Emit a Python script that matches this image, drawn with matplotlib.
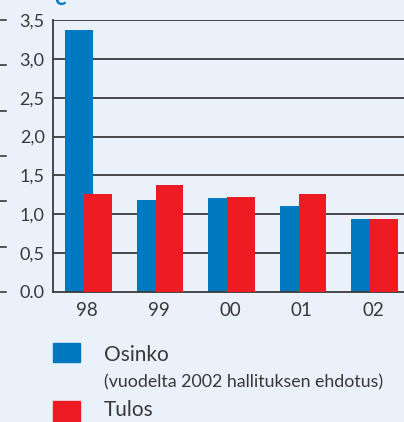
import matplotlib.pyplot as plt
import numpy as np
from matplotlib.patches import Rectangle

# dividend / earnings per share, years 1998-2002
years = ["98", "99", "00", "01", "02"]
osinko = [3.37, 1.18, 1.21, 1.11, 0.94]
tulos = [1.26, 1.38, 1.22, 1.26, 0.94]
y_ticks = [0.0, 0.5, 1.0, 1.5, 2.0, 2.5, 3.0, 3.5]
y_labels = ["0.0", "0,5", "1,0", "1,5", "2,0", "2,5", "3,0", "3,5"]

BG = "#EAF1FA"
BLUE = "#0079C1"
RED = "#ED1C24"
TXT = "#383838"
W, H = 404, 422


def main() -> None:
    plt.rcParams["font.family"] = ["Lato", "DejaVu Sans"]
    fig = plt.figure(figsize=(W / 100, H / 100), dpi=100, facecolor=BG)
    ax = fig.add_axes([53 / W, 130 / H, 1 - 53 / W, 272 / H], facecolor=BG)

    x = np.arange(len(years))
    bw = 0.39
    off = 0.133
    ax.bar(x - off, osinko, bw, color=BLUE, zorder=2)
    ax.bar(x + off, tulos, bw, color=RED, zorder=3)

    ax.set_xlim(-0.497, 4.413)
    ax.set_ylim(0, 3.5)
    ax.set_yticks(y_ticks, y_labels)
    ax.set_xticks(x - 0.02, years)
    for yv in y_ticks[1:]:
        ax.axhline(yv, color="#3a3a3a", lw=1.3, zorder=1)

    for s in ["top", "right"]:
        ax.spines[s].set_visible(False)
    for s in ["left", "bottom"]:
        ax.spines[s].set_color("#3a3a3a")
        ax.spines[s].set_linewidth(1.3)
    ax.tick_params(axis="y", length=0, pad=6, labelsize=13, labelcolor=TXT)
    ax.tick_params(axis="x", length=0, pad=7, labelsize=13.5, labelcolor=TXT)

    # leftover tick marks from the neighbouring chart at the left edge
    for yv in np.linspace(0, 3.5, 7):
        ax.plot([-53 / 351, -47 / 351], [yv, yv], color="#3a3a3a", lw=1.2,
                transform=ax.get_yaxis_transform(), clip_on=False)

    # cut-off heading letter at the very top
    fig.text(54 / W, 1 - 5 / H, "e", color=BLUE, fontsize=16, fontweight="bold",
             va="baseline", ha="left")

    # legend
    fig.patches.append(Rectangle((53 / W, 1 - 362 / H), 27 / W, 19 / H,
                                 color=BLUE, transform=fig.transFigure))
    fig.patches.append(Rectangle((53 / W, 1 - 422 / H), 27 / W, 21 / H,
                                 color=RED, transform=fig.transFigure))
    fig.text(104 / W, 1 - 355 / H, "Osinko", fontsize=15, color=TXT,
             va="center", ha="left")
    fig.text(104 / W, 1 - 382 / H, "(vuodelta 2002 hallituksen ehdotus)",
             fontsize=12.8, color=TXT, va="center", ha="left")
    fig.text(104 / W, 1 - 410 / H, "Tulos", fontsize=15, color=TXT,
             va="center", ha="left")

    fig.savefig("out.png", dpi=100, facecolor=BG)


if __name__ == "__main__":
    main()
